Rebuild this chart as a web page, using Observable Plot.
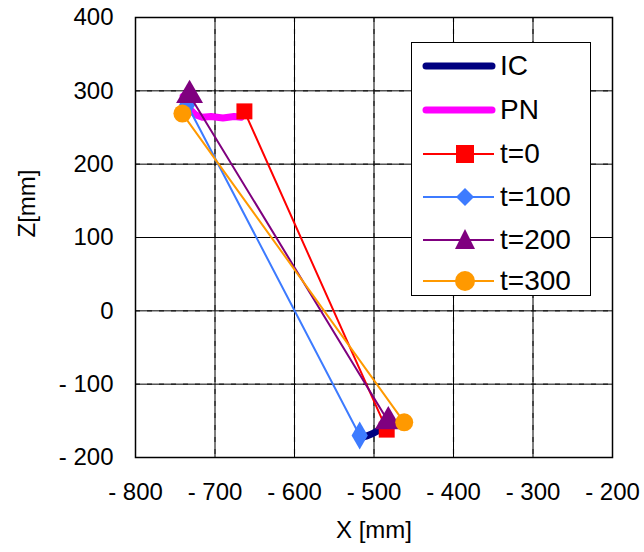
<!DOCTYPE html>
<html><head><meta charset="utf-8">
<script src="https://cdn.jsdelivr.net/npm/d3@7"></script>
<script src="https://cdn.jsdelivr.net/npm/@observablehq/plot@0.6"></script>
<style>
body{margin:0;background:#fff;font-family:"Liberation Sans",Arial,sans-serif;}
#wrap{position:relative;width:644px;height:552px;}
#legend{position:absolute;left:411px;top:42px;width:180px;height:254px;border:1.5px solid #000;background:#fff;box-sizing:border-box;}
.sw{position:absolute;left:8px;}
.lab{position:absolute;left:88px;font-size:28px;line-height:30px;color:#000;white-space:nowrap;}
</style></head>
<body><div id="wrap"></div>
<script>
const xTicks = [-800,-700,-600,-500,-400,-300,-200];
const zTicks = [-200,-100,0,100,200,300,400];
const xLabel = "X [mm]";
const zLabel = "Z[mm]";

const icX = [-516,-510,-503,-496,-489,-482];
const icZ = [-173,-171,-168,-164,-159,-153];
const pnX = [-740,-736,-731,-724,-716,-705,-690,-676,-667];
const pnZ = [293,285,274,267,264,265,263,265,264];

const series = ["t=0","t=100","t=200","t=300"];
const colors = ["#ff0000","#3d7bff","#7f007f","#ff9900"];
const symbols = ["square","diamond","triangle","circle"];
const radii = [9,8.5,10,9];
const sX = [[-663,-484],[-735,-518],[-732,-482],[-741,-462]];
const sZ = [[272,-162],[281,-170],[294,-151],[269,-152]];

const tData = [];
series.forEach((s,i)=>sX[i].forEach((x,j)=>tData.push({s, i, x, z:sZ[i][j]})));
const icData = icX.map((x,i)=>({x, z:icZ[i]}));
const pnData = pnX.map((x,i)=>({x, z:pnZ[i]}));
const fmt = d => String(d).replace("-", "- ");

const marks = [
  Plot.ruleX(xTicks.slice(1,-1), {x:d=>d, stroke:"#444", strokeWidth:1.2, strokeDasharray:"5,7"}),
  Plot.ruleY(zTicks.slice(1,-1), {y:d=>d, stroke:"#444", strokeWidth:1.2, strokeDasharray:"5,7"}),
  Plot.axisX(xTicks, {tickSize:0, tickPadding:25, fontSize:24, tickFormat:fmt, fill:"#000", label:null}),
  Plot.axisY(zTicks, {tickSize:0, tickPadding:22, fontSize:24, tickFormat:fmt, fill:"#000", label:null}),
  Plot.tickX(xTicks, {x:d=>d, y1:-200, y2:-193, stroke:"#000"}),
  Plot.tickY(zTicks, {y:d=>d, x1:-800, x2:-791, stroke:"#000"}),
  Plot.line(icData, {x:"x", y:"z", stroke:"#000080", strokeWidth:7, strokeLinecap:"round", strokeLinejoin:"round"}),
  Plot.line(pnData, {x:"x", y:"z", stroke:"#ff00ff", strokeWidth:7, strokeLinecap:"round", strokeLinejoin:"round"}),
];
series.forEach((s,i)=>{
  const d = tData.filter(r=>r.s===s);
  marks.push(Plot.line(d, {x:"x", y:"z", stroke:colors[i], strokeWidth:2}));
  marks.push(Plot.dot(d, {x:"x", y:"z", fill:colors[i], stroke:"none", symbol:symbols[i], r:radii[i]}));
});
marks.push(Plot.frame({stroke:"#000", strokeWidth:1.5}));
marks.push(Plot.text([xLabel], {frameAnchor:"bottom", dy:80, fontSize:24, fill:"#000"}));
marks.push(Plot.text([zLabel], {frameAnchor:"left", dx:-108, rotate:-90, fontSize:24, fill:"#000"}));

const chart = Plot.plot({
  width:644, height:552,
  marginLeft:135, marginRight:32, marginTop:17, marginBottom:95,
  style:{fontFamily:"Liberation Sans, Arial, sans-serif", background:"#fff", overflow:"visible"},
  x:{domain:[-800,-200], axis:null},
  y:{domain:[-200,400], axis:null},
  marks
});
const wrap = document.getElementById("wrap");
wrap.appendChild(chart);

// legend
const leg = document.createElement("div");
leg.id = "legend";
const rows = [
  {label:"IC", color:"#000080", thick:true},
  {label:"PN", color:"#ff00ff", thick:true},
  ...series.map((s,i)=>({label:s, color:colors[i], sym:symbols[i]}))
];
const rowY = [23,67,111,154,197,238];
const symPath = {
  square:'<rect x="36" y="6" width="18" height="18"/>',
  diamond:'<path d="M45 6 L54 15 L45 24 L36 15 Z"/>',
  triangle:'<path d="M45 4 L55 24 L35 24 Z"/>',
  circle:'<circle cx="45" cy="15" r="10"/>'
};
rows.forEach((r,k)=>{
  let svg = `<svg class="sw" width="78" height="30" style="top:${rowY[k]-15}px">`;
  if (r.thick) svg += `<line x1="6" y1="15" x2="72" y2="15" stroke="${r.color}" stroke-width="7" stroke-linecap="round"/>`;
  else svg += `<line x1="3" y1="15" x2="74" y2="15" stroke="${r.color}" stroke-width="2"/><g fill="${r.color}">${symPath[r.sym]}</g>`;
  svg += `</svg>`;
  leg.insertAdjacentHTML("beforeend", svg + `<div class="lab" style="top:${rowY[k]-15}px">${r.label}</div>`);
});
wrap.appendChild(leg);
</script></body></html>
